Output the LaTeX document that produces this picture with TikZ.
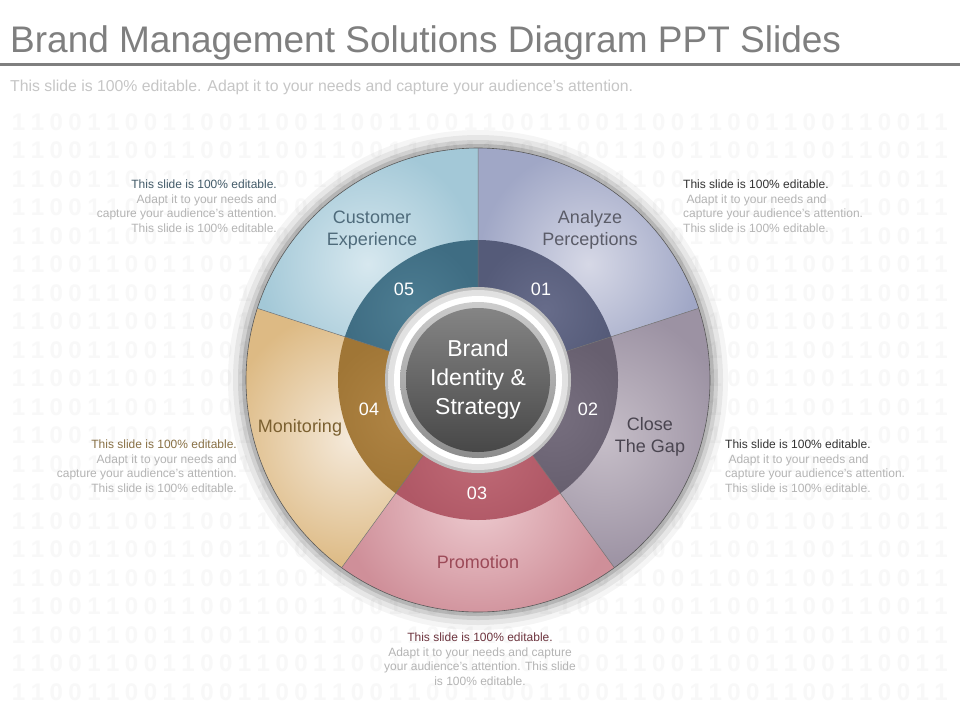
\documentclass[tikz,border=0pt]{standalone}
\usepackage{fontspec}
\setmainfont{Liberation Sans}
\usetikzlibrary{positioning}

\definecolor{titlegray}{HTML}{7F7F7F}
\definecolor{bitgray}{HTML}{F8F8F8}
\definecolor{blurbgray}{HTML}{B4B4B4}
% sector colours, outer band
\definecolor{oneA}{HTML}{D6D8E6}\definecolor{oneB}{HTML}{A0A7C6}
\definecolor{twoA}{HTML}{C6BEC8}\definecolor{twoB}{HTML}{9C92A3}
\definecolor{thrA}{HTML}{EDCACF}\definecolor{thrB}{HTML}{CF8F99}
\definecolor{fouA}{HTML}{F5EADB}\definecolor{fouB}{HTML}{DDBA84}
\definecolor{fivA}{HTML}{D7E8EF}\definecolor{fivB}{HTML}{A3C8D7}
% sector colours, inner band
\definecolor{oneC}{HTML}{676C8A}\definecolor{oneD}{HTML}{555B79}
\definecolor{twoC}{HTML}{776F7F}\definecolor{twoD}{HTML}{675F6F}
\definecolor{thrC}{HTML}{C06B77}\definecolor{thrD}{HTML}{B05866}
\definecolor{fouC}{HTML}{B08545}\definecolor{fouD}{HTML}{A07636}
\definecolor{fivC}{HTML}{4D7D92}\definecolor{fivD}{HTML}{3F6D83}
% label colours
\definecolor{labOne}{HTML}{5B5C68}
\definecolor{labTwo}{HTML}{4A4550}
\definecolor{labThr}{HTML}{9C4A58}
\definecolor{labFou}{HTML}{7B6030}
\definecolor{labFiv}{HTML}{4F6B7B}

\newcommand{\bitgrp}{1\hfill1\hfill0\hfill0}
\newcommand{\bitrow}{\makebox[936pt]{\bitgrp\hfill\bitgrp\hfill\bitgrp\hfill\bitgrp\hfill
  \bitgrp\hfill\bitgrp\hfill\bitgrp\hfill\bitgrp\hfill\bitgrp\hfill\bitgrp\hfill
  \bitgrp\hfill\bitgrp\hfill1\hfill1}}

\tikzset{
  bits/.style={text=bitgray, font=\fontsize{24}{24}\selectfont\bfseries, inner sep=0pt},
  blurb/.style={text=blurbgray, font=\fontsize{12}{14.4}\selectfont, inner sep=0pt},
  seglabel/.style={font=\fontsize{18}{22.5}\selectfont, align=center, inner sep=0pt},
  segnum/.style={text=white, font=\fontsize{18}{18}\selectfont, inner sep=0pt},
}

\begin{document}
\begin{tikzpicture}[x=1pt, y=1pt]
\useasboundingbox (0,0) rectangle (960,-720);
\fill[white] (0,0) rectangle (960,-720);

% background digits
\foreach \r in {0,...,20}
    \node[bits] (b\r) at (480,{-122-28.5*\r}) {\bitrow};

% heading
\node[anchor=base west, inner sep=0pt, text=titlegray, font=\fontsize{37}{37}\selectfont]
    (title) at (10,-52) {Brand Management Solutions Diagram PPT Slides};
\draw[line width=3pt, titlegray] (0,-64) -- (960,-64);
\node[anchor=base west, inner sep=0pt, text=gray!45, font=\fontsize{15.8}{15.8}\selectfont]
    (subtitle) at (10,-91) {This slide is 100\% editable. Adapt it to your needs and capture your audience's attention.};

% wheel
\begin{scope}[shift={(478,-380)}]
    \foreach \rr/\op in {250/0.04, 245/0.06, 240/0.09, 236/0.13}
        \fill[black, opacity=\op] (0,0) circle (\rr);

    % outer band
    \shade[inner color=oneA, outer color=oneB] (0,0) -- (90:232) arc (90:18:232) -- cycle;
    \shade[inner color=twoA, outer color=twoB] (0,0) -- (18:232) arc (18:-54:232) -- cycle;
    \shade[inner color=thrA, outer color=thrB] (0,0) -- (-54:232) arc (-54:-126:232) -- cycle;
    \shade[inner color=fouA, outer color=fouB] (0,0) -- (-126:232) arc (-126:-198:232) -- cycle;
    \shade[inner color=fivA, outer color=fivB] (0,0) -- (162:232) arc (162:90:232) -- cycle;

    % inner band
    \shade[inner color=oneC, outer color=oneD] (0,0) -- (90:140) arc (90:18:140) -- cycle;
    \shade[inner color=twoC, outer color=twoD] (0,0) -- (18:140) arc (18:-54:140) -- cycle;
    \shade[inner color=thrC, outer color=thrD] (0,0) -- (-54:140) arc (-54:-126:140) -- cycle;
    \shade[inner color=fouC, outer color=fouD] (0,0) -- (-126:140) arc (-126:-198:140) -- cycle;
    \shade[inner color=fivC, outer color=fivD] (0,0) -- (162:140) arc (162:90:140) -- cycle;

    \draw[black!65, line width=0.6pt] (0,0) circle (232);
    \draw[black!55, line width=0.5pt] (0,0) -- (90:232) (0,0) -- (18:232) (0,0) -- (-54:232)
        (0,0) -- (-126:232) (0,0) -- (162:232);

    % hub
    \fill[black!25] (0,0) circle (93);
    \shade[inner color=white, outer color=black!12] (0,0) circle (90);
    \fill[white] (0,0) circle (84);
    \shade[top color=black!20, bottom color=black!45] (0,0) circle (78);
    \shade[top color=black!48, bottom color=black!72] (0,0) circle (72);
\end{scope}

% sector labels
\node[seglabel, text=labOne] (t1) at (590,-230) {Analyze\\Perceptions};
\node[seglabel, text=labTwo] (t2) at (650,-437) {Close\\The Gap};
\node[seglabel, text=labThr] (t3) at (478,-562) {Promotion};
\node[seglabel, text=labFou] (t4) at (300,-428) {Monitoring};
\node[seglabel, text=labFiv] (t5) at (372,-230) {Customer\\Experience};

\node[segnum] (n1) at (541,-289) {01};
\node[segnum] (n2) at (588,-409) {02};
\node[segnum] (n3) at (477,-493) {03};
\node[segnum] (n4) at (369,-409) {04};
\node[segnum] (n5) at (404,-289) {05};

\node[text=white, align=center, inner sep=0pt, font=\fontsize{23}{29}\selectfont]
    (core) at (478,-380) {Brand\\Identity \&\\Strategy};

% side notes
\node[blurb, anchor=north east, align=right] (d5) at (277,-180)
    {\textcolor{labFiv!85!black}{This slide is 100\% editable.}\\Adapt it to your needs and\\capture your audience's attention.\\This slide is 100\% editable.};
\node[blurb, anchor=north west, align=left] (d1) at (683,-180)
    {\textcolor{black!80}{This slide is 100\% editable.}\\\ Adapt it to your needs and\\capture your audience's attention.\\This slide is 100\% editable.};
\node[blurb, anchor=north east, align=right] (d4) at (237,-440)
    {\textcolor{labFou!90}{This slide is 100\% editable.}\\Adapt it to your needs and\\capture your audience's attention.\\This slide is 100\% editable.};
\node[blurb, anchor=north west, align=left] (d2) at (725,-440)
    {\textcolor{black!80}{This slide is 100\% editable.}\\\ Adapt it to your needs and\\capture your audience's attention.\\This slide is 100\% editable.};
\node[blurb, anchor=north, align=center] (d3) at (480,-633)
    {\textcolor{labThr!70!black}{This slide is 100\% editable.}\\Adapt it to your needs and capture\\your audience's attention. This slide\\is 100\% editable.};
\end{tikzpicture}
\end{document}
